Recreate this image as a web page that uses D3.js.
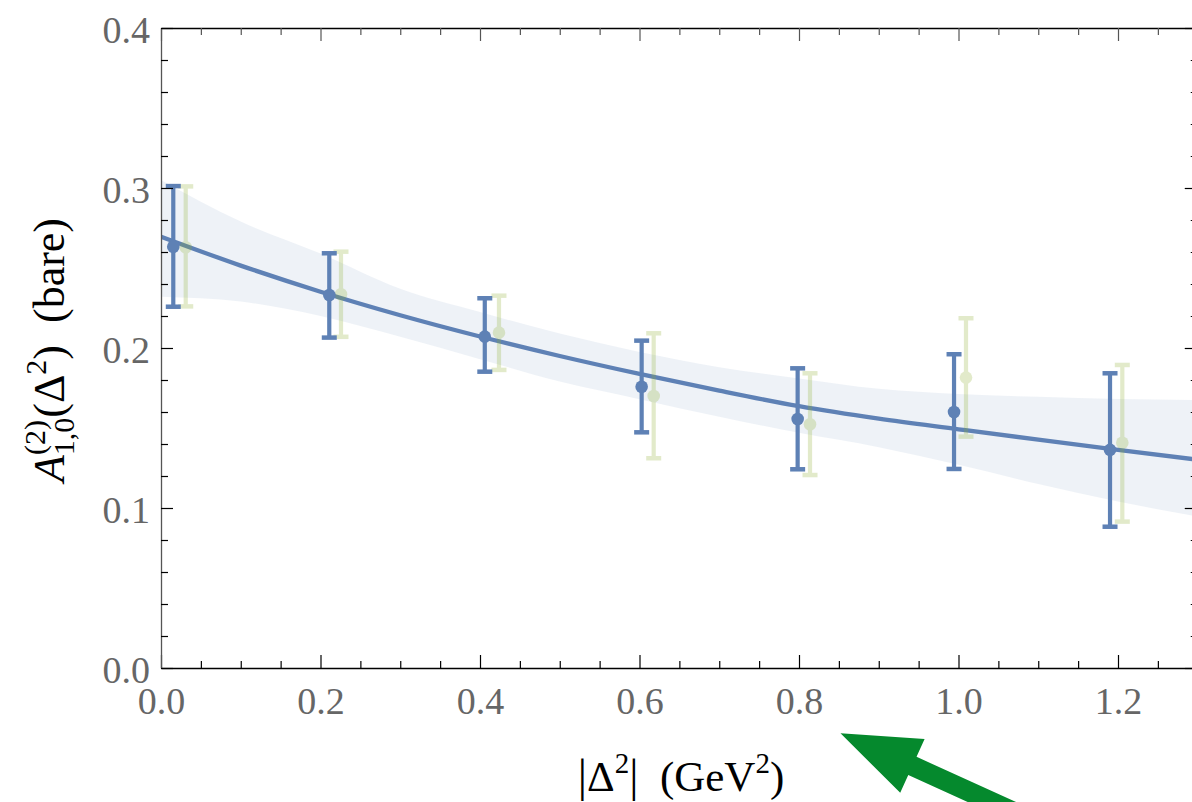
<!DOCTYPE html>
<html>
<head>
<meta charset="utf-8">
<script src="https://cdn.jsdelivr.net/npm/d3@7"></script>
<style>
html,body{margin:0;padding:0;background:#fff;}
svg{display:block;}
</style>
</head>
<body>
<svg id="chart" width="1192" height="802"></svg>
<script>
// ---- data ----
const xBlue  = [0.0154, 0.211, 0.406, 0.6027, 0.7983, 0.9944, 1.190];
const yBlue  = [0.2633, 0.2331, 0.2071, 0.1758, 0.1556, 0.1600, 0.1363];
const loBlue = [0.2258, 0.2065, 0.1852, 0.1473, 0.1242, 0.1244, 0.0883];
const hiBlue = [0.3012, 0.2592, 0.2311, 0.2046, 0.1873, 0.1961, 0.1842];

const xGreen  = [0.031, 0.2257, 0.4238, 0.6178, 0.8138, 1.0094, 1.2054];
const yGreen  = [0.2630, 0.2336, 0.2096, 0.1700, 0.1523, 0.1815, 0.1408];
const loGreen = [0.2260, 0.2070, 0.1863, 0.1311, 0.1206, 0.1446, 0.0915];
const hiGreen = [0.3010, 0.2602, 0.2327, 0.2092, 0.1842, 0.2186, 0.1894];

const fitX    = [0, 0.1, 0.2, 0.3, 0.4, 0.5, 0.6, 0.7, 0.8, 0.9, 1.0, 1.1, 1.2, 1.3];
const fitY    = [0.2696, 0.2515, 0.2352, 0.2205, 0.2072, 0.1950, 0.1838, 0.1733, 0.1636, 0.1558, 0.1492, 0.1427, 0.1364, 0.1302];
const bandHi  = [0.3050, 0.2790, 0.2590, 0.2370, 0.2225, 0.2090, 0.1975, 0.1880, 0.1810, 0.1745, 0.1712, 0.1695, 0.1682, 0.1675];
const bandLo  = [0.2320, 0.2290, 0.2200, 0.2070, 0.1930, 0.1790, 0.1680, 0.1570, 0.1470, 0.1380, 0.1270, 0.1150, 0.1040, 0.0946];

const xMajorTicks = [0, 0.2, 0.4, 0.6, 0.8, 1.0, 1.2];
const yMajorTicks = [0, 0.1, 0.2, 0.3, 0.4];
const xTickLabels = ["0.0", "0.2", "0.4", "0.6", "0.8", "1.0", "1.2"];
const yTickLabels = ["0.0", "0.1", "0.2", "0.3", "0.4"];

const arrowTip  = [0.852, -0.0408];
const arrowTail = [1.092, -0.0951];

(function () {
// ---- layout ----
const pL = 161, pT = 28, pB = 668;
const x = d3.scaleLinear().domain([0, 1.3]).range([pL, pL + 1.3 * 797.5]);
const y = d3.scaleLinear().domain([0, 0.4]).range([pB, pT]);
const pR = x(1.3);

const blue = "#5E81B5";
const green = "#8FB032";
const serif = "Liberation Serif, DejaVu Serif, serif";

const svg = d3.select("#chart");

svg.append("defs").append("clipPath").attr("id", "plotclip")
  .append("rect").attr("x", pL).attr("y", pT).attr("width", pR - pL).attr("height", pB - pT);

const plot = svg.append("g").attr("clip-path", "url(#plotclip)");

// band
const bandData = fitX.map((v, i) => ({x: v, lo: bandLo[i], hi: bandHi[i]}));
plot.append("path")
  .datum(bandData)
  .attr("d", d3.area().x(d => x(d.x)).y0(d => y(d.lo)).y1(d => y(d.hi)).curve(d3.curveMonotoneX))
  .attr("fill", blue).attr("fill-opacity", 0.105);

function drawPoints(g, xs, ys, los, his, color, opacity) {
  const grp = g.append("g").attr("opacity", opacity);
  xs.forEach((xv, i) => {
    const px = x(xv);
    grp.append("line").attr("x1", px).attr("x2", px).attr("y1", y(los[i])).attr("y2", y(his[i]))
      .attr("stroke", color).attr("stroke-width", 4.2);
    [los[i], his[i]].forEach(v => {
      grp.append("line").attr("x1", px - 7.5).attr("x2", px + 7.5).attr("y1", y(v)).attr("y2", y(v))
        .attr("stroke", color).attr("stroke-width", 4.5);
    });
    grp.append("circle").attr("cx", px).attr("cy", y(ys[i])).attr("r", 6.3).attr("fill", color);
  });
}

// fit line
const fitData = fitX.map((v, i) => ({x: v, y: fitY[i]}));
plot.append("path")
  .datum(fitData)
  .attr("d", d3.line().x(d => x(d.x)).y(d => y(d.y)).curve(d3.curveMonotoneX))
  .attr("fill", "none").attr("stroke", blue).attr("stroke-width", 4.3);

drawPoints(plot, xGreen, yGreen, loGreen, hiGreen, green, 0.25);
drawPoints(plot, xBlue, yBlue, loBlue, hiBlue, blue, 1);

// ---- frame & ticks ----
const axes = svg.append("g");
const xMinor = d3.range(0, 1.3001, 0.05).filter(v => !xMajorTicks.some(m => Math.abs(m - v) < 1e-6));
const yMinor = d3.range(0, 0.4001, 0.02).filter(v => !yMajorTicks.some(m => Math.abs(m - v) < 1e-6));

// bottom axis
const gB = axes.append("g").attr("transform", `translate(0,${pB})`)
  .call(d3.axisBottom(x).tickValues(xMajorTicks).tickFormat((d, i) => xTickLabels[i]).tickSizeInner(-13).tickSizeOuter(0).tickPadding(17));
gB.select(".domain").attr("stroke", "#000").attr("stroke-width", 1.3);
gB.selectAll(".tick line").attr("stroke", "#000").attr("stroke-width", 1.2);
gB.selectAll(".tick text").attr("font-family", serif).attr("font-size", 38).attr("fill", "#666").attr("dy", "0.75em");
const gBm = axes.append("g").attr("transform", `translate(0,${pB})`)
  .call(d3.axisBottom(x).tickValues(xMinor).tickFormat("").tickSizeInner(-7).tickSizeOuter(0));
gBm.select(".domain").remove();
gBm.selectAll(".tick line").attr("stroke", "#000").attr("stroke-width", 1.2);

// top axis
const gT = axes.append("g").attr("transform", `translate(0,${pT})`)
  .call(d3.axisTop(x).tickValues(xMajorTicks).tickFormat("").tickSizeInner(-13).tickSizeOuter(0));
gT.select(".domain").attr("stroke", "#000").attr("stroke-width", 1.3);
gT.selectAll(".tick line").attr("stroke", "#555").attr("stroke-width", 1.2);
const gTm = axes.append("g").attr("transform", `translate(0,${pT})`)
  .call(d3.axisTop(x).tickValues(xMinor).tickFormat("").tickSizeInner(-7).tickSizeOuter(0));
gTm.select(".domain").remove();
gTm.selectAll(".tick line").attr("stroke", "#555").attr("stroke-width", 1.2);

// left axis
const gL = axes.append("g").attr("transform", `translate(${pL},0)`)
  .call(d3.axisLeft(y).tickValues(yMajorTicks).tickFormat((d, i) => yTickLabels[i]).tickSizeInner(-12).tickSizeOuter(0).tickPadding(11));
gL.select(".domain").attr("stroke", "#555").attr("stroke-width", 1.3);
gL.selectAll(".tick line").attr("stroke", "#000").attr("stroke-width", 1.2);
gL.selectAll(".tick text").attr("font-family", serif).attr("font-size", 38).attr("fill", "#666").attr("dy", "0.38em");
const gLm = axes.append("g").attr("transform", `translate(${pL},0)`)
  .call(d3.axisLeft(y).tickValues(yMinor).tickFormat("").tickSizeInner(-7).tickSizeOuter(0));
gLm.select(".domain").remove();
gLm.selectAll(".tick line").attr("stroke", "#000").attr("stroke-width", 1.2);

// right axis
const gR = axes.append("g").attr("transform", `translate(${pR},0)`)
  .call(d3.axisRight(y).tickValues(yMajorTicks).tickFormat("").tickSizeInner(-13).tickSizeOuter(0));
gR.select(".domain").attr("stroke", "#000").attr("stroke-width", 1.3);
gR.selectAll(".tick line").attr("stroke", "#000").attr("stroke-width", 1.2);
const gRm = axes.append("g").attr("transform", `translate(${pR},0)`)
  .call(d3.axisRight(y).tickValues(yMinor).tickFormat("").tickSizeInner(-7).tickSizeOuter(0));
gRm.select(".domain").remove();
gRm.selectAll(".tick line").attr("stroke", "#000").attr("stroke-width", 1.2);

// ---- axis labels ----
function addParts(textSel, parts) {
  parts.forEach(p => {
    const t = textSel.append("tspan").text(p.t);
    if (p.fs) t.attr("font-size", p.fs);
    if (p.dx !== undefined) t.attr("dx", p.dx);
    if (p.dy !== undefined) t.attr("dy", p.dy);
    if (p.it) t.attr("font-style", "italic");
  });
}

const yLab = svg.append("text")
  .attr("transform", `translate(64,350) rotate(-90)`)
  .attr("text-anchor", "middle")
  .attr("font-family", serif).attr("font-size", 44).attr("fill", "#000");
addParts(yLab, [
  {t: "A", it: true},
  {t: "(2)", fs: 30, dy: -19},
  {t: "1,0", fs: 30, dx: -35, dy: 29},
  {t: "(\u0394", dy: -10},
  {t: "2", fs: 30, dy: -18},
  {t: ")\u00a0\u00a0(bare)", dy: 18}
]);

const xLab = svg.append("text")
  .attr("x", 681).attr("y", 791)
  .attr("text-anchor", "middle")
  .attr("font-family", serif).attr("font-size", 43).attr("fill", "#000");
addParts(xLab, [
  {t: "|", fs: 46},
  {t: "\u0394"},
  {t: "2", fs: 29, dy: -18},
  {t: "|", fs: 46, dy: 18},
  {t: "\u00a0\u00a0(GeV"},
  {t: "2", fs: 29, dy: -18},
  {t: ")", dy: 18}
]);

// ---- green annotation arrow ----
const T = [x(arrowTip[0]), y(arrowTip[1])];
const E = [x(arrowTail[0]), y(arrowTail[1])];
const ddx = E[0] - T[0], ddy = E[1] - T[1];
const Ln = Math.hypot(ddx, ddy);
const u = [ddx / Ln, ddy / Ln], n = [-u[1], u[0]];
const headLen = 79, headHalf = 29.5, shaftHalf = 10;
const Bc = [T[0] + u[0] * headLen, T[1] + u[1] * headLen];
const pts = [
  T,
  [Bc[0] + n[0] * headHalf, Bc[1] + n[1] * headHalf],
  [Bc[0] + n[0] * shaftHalf, Bc[1] + n[1] * shaftHalf],
  [E[0] + n[0] * shaftHalf, E[1] + n[1] * shaftHalf],
  [E[0] - n[0] * shaftHalf, E[1] - n[1] * shaftHalf],
  [Bc[0] - n[0] * shaftHalf, Bc[1] - n[1] * shaftHalf],
  [Bc[0] - n[0] * headHalf, Bc[1] - n[1] * headHalf]
];
svg.append("path").attr("d", d3.line()(pts) + "Z").attr("fill", "#05892D");
})();
</script>
</body>
</html>
